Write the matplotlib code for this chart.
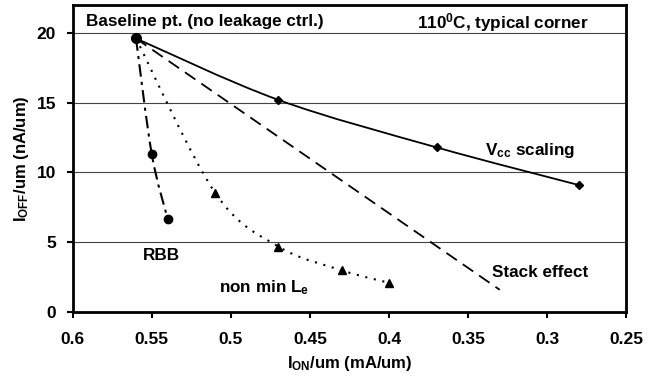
import numpy as np
import matplotlib
matplotlib.use('Agg')
import matplotlib.pyplot as plt
from matplotlib.path import Path
from matplotlib.patches import PathPatch

plt.rcParams['font.family'] = ['Liberation Sans', 'DejaVu Sans']
plt.rcParams['font.weight'] = 'bold'
plt.rcParams['mathtext.fontset'] = 'custom'
plt.rcParams['mathtext.rm'] = 'Liberation Sans:bold'
plt.rcParams['mathtext.default'] = 'rm'

# data (I_ON mA/um, I_OFF nA/um)
baseline = (0.56, 19.6)
vcc_x = [0.56, 0.47, 0.37, 0.28]
vcc_y = [19.6, 15.2, 11.8, 9.1]
stack_x = [0.56, 0.33]
stack_y = [19.6, 1.6]
rbb_x = [0.56, 0.55, 0.54]
rbb_y = [19.6, 11.3, 6.7]
lnm_x = [0.56, 0.51, 0.47, 0.43, 0.40]
lnm_y = [19.6, 8.55, 4.7, 3.0, 2.1]


def smooth_path(xs, ys):
    # excel style smoothed line: cubic bezier through the points
    p = np.column_stack([xs, ys])
    n = len(p)
    verts = [p[0]]
    codes = [Path.MOVETO]
    for i in range(n - 1):
        a = p[i - 1] if i > 0 else p[i]
        b = p[i + 2] if i + 2 < n else p[i + 1]
        c1 = p[i] + (p[i + 1] - a) / 6.0
        c2 = p[i + 1] - (b - p[i]) / 6.0
        verts += [c1, c2, p[i + 1]]
        codes += [Path.CURVE4] * 3
    return Path(verts, codes)


fig = plt.figure(figsize=(6.67, 3.77), dpi=100)
ax = fig.add_axes([0.109, 0.172, 0.83, 0.815])

ax.set_xlim(0.6, 0.25)
ax.set_ylim(0, 22)
ax.set_xticks([0.6, 0.55, 0.5, 0.45, 0.4, 0.35, 0.3, 0.25])
ax.set_xticklabels(['0.6', '0.55', '0.5', '0.45', '0.4', '0.35', '0.3', '0.25'])
ax.set_yticks([0, 5, 10, 15, 20])
for v in [5, 10, 15, 20]:
    ax.axhline(v, color='#444444', lw=0.8, zorder=1)

# Vcc scaling
ax.add_patch(PathPatch(smooth_path(vcc_x, vcc_y), fill=False, color='black',
                       lw=1.3, zorder=3))
ax.plot(vcc_x, vcc_y, ls='none', marker='D', ms=4, color='black', zorder=4)

# stack effect
ax.plot(stack_x, stack_y, color='black', lw=1.3, ls=(0, (7, 4)), zorder=3)

# RBB
ax.add_patch(PathPatch(smooth_path(rbb_x, rbb_y), fill=False, color='black',
                       lw=1.5, ls=(0, (6, 2.5, 1.5, 2.5)), zorder=3))
ax.plot(rbb_x, rbb_y, ls='none', marker='o', ms=6, color='black', zorder=4)

# non min Le
ax.add_patch(PathPatch(smooth_path(lnm_x, lnm_y), fill=False, color='black',
                       lw=1.5, ls=(0, (1, 3.2)), zorder=3))
ax.plot(lnm_x[1:], lnm_y[1:], ls='none', marker='^', ms=5.5, color='black', zorder=4)
ax.plot([baseline[0]], [baseline[1]], ls='none', marker='o', ms=7, color='black', zorder=5)

for s in ax.spines.values():
    s.set_linewidth(2)
ax.tick_params(direction='out', length=4, width=1.5, labelsize=12.5)
ax.tick_params(axis='x', pad=10)
ax.tick_params(axis='y', pad=8)
for lab in ax.get_xticklabels() + ax.get_yticklabels():
    lab.set_fontweight('bold')

ax.set_xlabel(r'I$_{ON}$/um (mA/um)', fontsize=12, fontweight='bold', labelpad=5)
ax.set_ylabel(r'I$_{OFF}$/um (nA/um)', fontsize=12, fontweight='bold', labelpad=4)

fs = 12.3
ax.text(0.5918, 20.8, 'Baseline pt. (no leakage ctrl.)', fontsize=fs, fontweight='bold',
        va='center', ha='left')
ax.text(0.3823, 20.75, r'110$^{0}$C, typical corner', fontsize=fs, fontweight='bold',
        va='center', ha='left')
ax.text(0.3392, 11.55, r'V$_{cc}$ scaling', fontsize=fs, fontweight='bold',
        va='center', ha='left')
ax.text(0.3348, 2.87, 'Stack effect', fontsize=fs, fontweight='bold',
        va='center', ha='left')
ax.text(0.5557, 4.04, 'RBB', fontsize=fs, fontweight='bold', va='center', ha='left')
ax.text(0.5076, 1.75, r'non min L$_{e}$', fontsize=fs, fontweight='bold',
        va='center', ha='left')

fig.savefig('out.png', dpi=100)
